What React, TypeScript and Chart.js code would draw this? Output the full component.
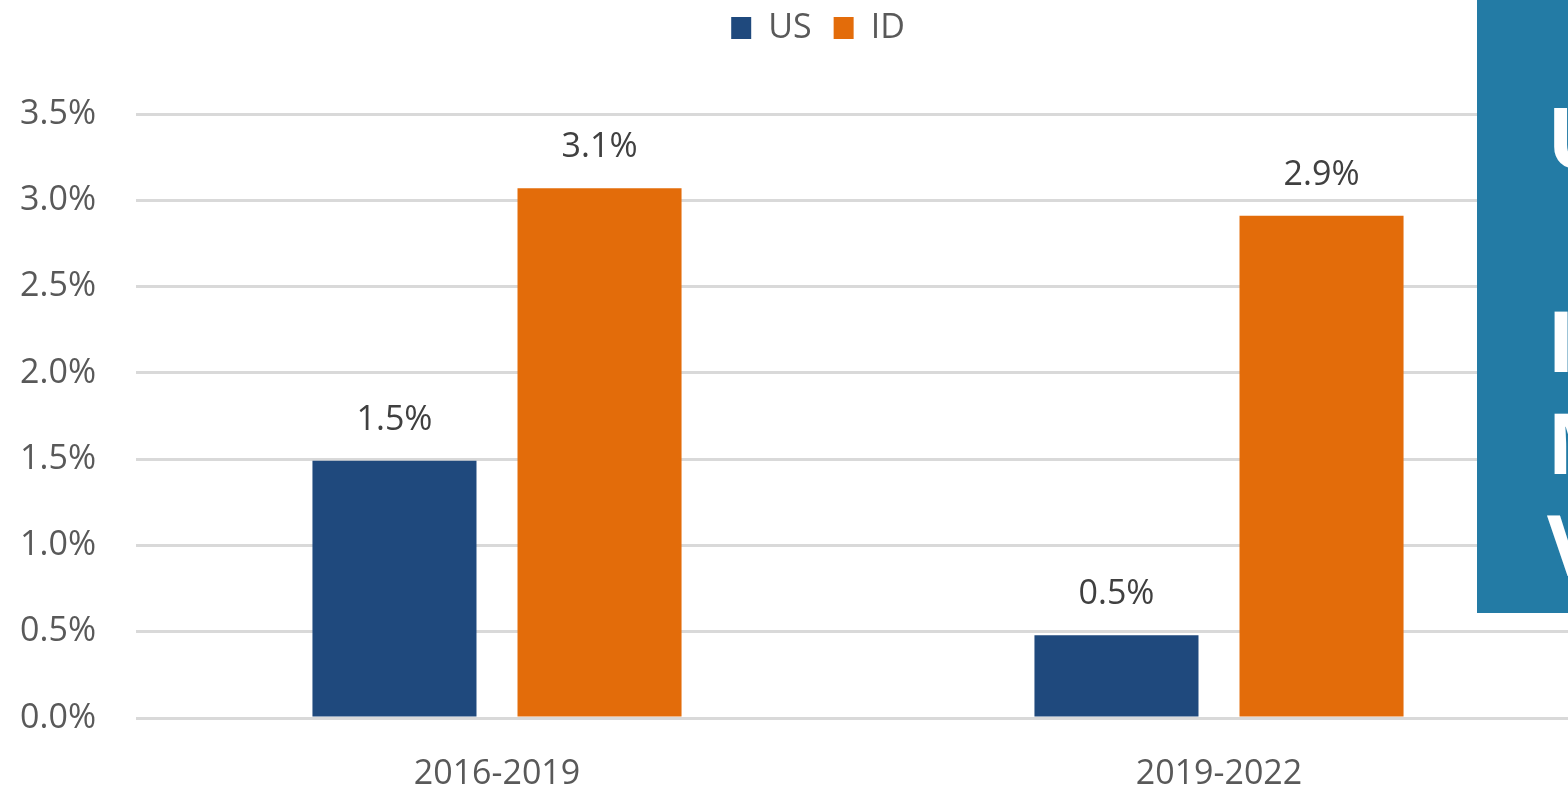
import React, { useEffect, useRef } from "react";
import { Chart, registerables } from "chart.js";

Chart.register(...registerables);

const categories = ["2016-2019", "2019-2022"];
const seriesNames = ["US", "ID"];
const usValues = [1.49, 0.48];
const idValues = [3.07, 2.91];
const usLabels = ["1.5%", "0.5%"];
const idLabels = ["3.1%", "2.9%"];
const yTicks = [0, 0.5, 1.0, 1.5, 2.0, 2.5, 3.0, 3.5];
const boxLines = ["U", "\u00a0", "I", "M", "V"];

const FONT = "'Open Sans', 'Noto Sans', sans-serif";

export default function App() {
  const ref = useRef<HTMLCanvasElement | null>(null);

  useEffect(() => {
    if (!ref.current) return;
    const labelSets = [usLabels, idLabels];

    const legendSpacer = {
      id: "legendSpacer",
      beforeInit(chart: any) {
        const orig = chart.legend.fit;
        chart.legend.fit = function () {
          orig.bind(chart.legend)();
          this.height += 59;
        };
      },
      afterLayout(chart: any) {
        chart.legend.left += 28;
        chart.legend.right += 28;
      },
    };

    const dataLabels = {
      id: "dataLabels",
      afterDatasetsDraw(chart: any) {
        const ctx = chart.ctx;
        ctx.save();
        ctx.font = `34px ${FONT}`;
        ctx.fillStyle = "#404040";
        ctx.textAlign = "center";
        ctx.textBaseline = "alphabetic";
        chart.data.datasets.forEach((ds: any, di: number) => {
          const meta = chart.getDatasetMeta(di);
          meta.data.forEach((bar: any, i: number) => {
            ctx.fillText(labelSets[di][i], bar.x, bar.y - 31);
          });
        });
        ctx.restore();
      },
    };

    const chart = new Chart(ref.current, {
      type: "bar",
      data: {
        labels: categories,
        datasets: [
          {
            label: seriesNames[0],
            data: usValues,
            backgroundColor: "#1f497d",
            categoryPercentage: 0.568,
            barPercentage: 0.8,
          },
          {
            label: seriesNames[1],
            data: idValues,
            backgroundColor: "#e36c0a",
            categoryPercentage: 0.568,
            barPercentage: 0.8,
          },
        ],
      },
      options: {
        responsive: false,
        animation: false,
        devicePixelRatio: 1,
        layout: { padding: { top: -11, left: 0, right: 0, bottom: 0 } },
        plugins: {
          legend: {
            position: "top",
            labels: {
              font: { family: FONT, size: 34 },
              color: "#595959",
              boxWidth: 20,
              boxHeight: 22,
              padding: 22,
            },
          },
          tooltip: { enabled: false },
        },
        scales: {
          x: {
            afterFit(scale: any) {
              scale.height = 71;
            },
            grid: { display: false },
            border: { display: false },
            ticks: {
              font: { family: FONT, size: 34 },
              color: "#595959",
              padding: 28,
            },
          },
          y: {
            min: 0,
            max: 3.5,
            afterFit(scale: any) {
              scale.width = 136;
            },
            afterBuildTicks(scale: any) {
              scale.ticks = yTicks.map((v) => ({ value: v }));
            },
            grid: { color: "#d9d9d9", lineWidth: 3, drawTicks: false },
            border: { display: false },
            ticks: {
              font: { family: FONT, size: 34 },
              color: "#595959",
              padding: 40,
              callback: (v: any) => Number(v).toFixed(1) + "%",
            },
          },
        },
      },
      plugins: [legendSpacer, dataLabels],
    });
    return () => chart.destroy();
  }, []);

  return (
    <div
      style={{
        position: "fixed",
        left: 0,
        top: 0,
        width: 1568,
        height: 789,
        overflow: "hidden",
        background: "#ffffff",
      }}
    >
      <canvas ref={ref} width={1580} height={789} style={{ width: 1580, height: 789, display: "block" }} />
      <div
        style={{
          position: "absolute",
          left: 1477,
          top: 0,
          width: 91,
          height: 613,
          background: "#237ba5",
          overflow: "hidden",
          boxSizing: "border-box",
          paddingLeft: 70,
          paddingTop: 84,
          color: "#ffffff",
          fontFamily: FONT,
          fontWeight: 700,
          fontSize: 85,
          lineHeight: "102px",
          whiteSpace: "nowrap",
        }}
      >
        {boxLines.map((t, i) => (
          <div key={i}>{t}</div>
        ))}
      </div>
    </div>
  );
}
